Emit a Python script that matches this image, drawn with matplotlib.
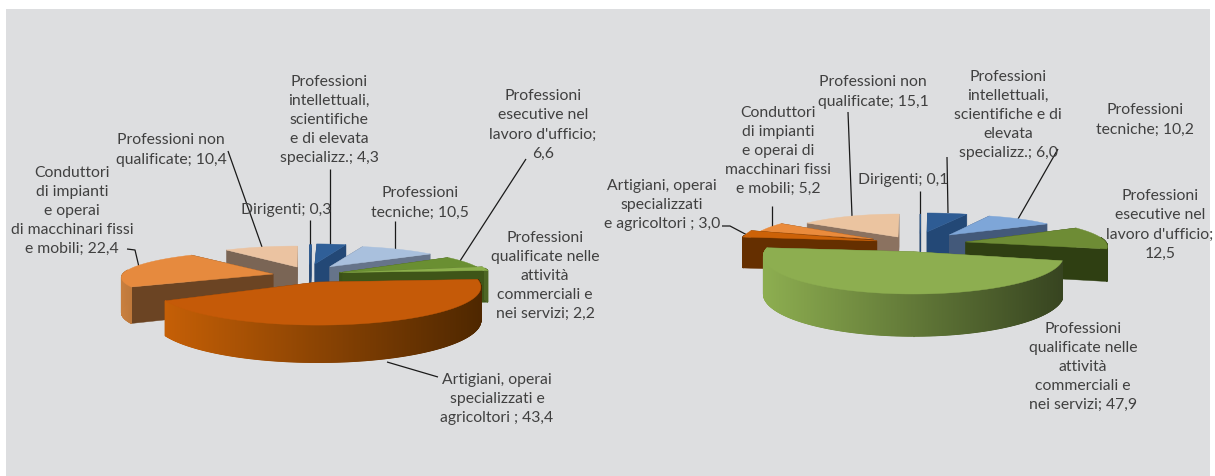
import numpy as np
import matplotlib
matplotlib.use("Agg")
import matplotlib.pyplot as plt
from matplotlib.colors import to_rgb
from matplotlib.patches import Rectangle

plt.rcParams['font.family'] = ['Lato', 'DejaVu Sans']

values_left = [0.3, 4.3, 10.5, 6.6, 2.2, 43.4, 22.4, 10.4]
values_right = [0.1, 6.0, 10.2, 12.5, 47.9, 3.0, 5.2, 15.1]

labels_left = ["Dirigenti; 0,3",
               "Professioni\nintellettuali,\nscientifiche\ne di elevata\nspecializz.; 4,3",
               "Professioni\ntecniche; 10,5",
               "Professioni\nesecutive nel\nlavoro d'ufficio;\n6,6",
               "Professioni\nqualificate nelle\nattività\ncommerciali e\nnei servizi; 2,2",
               "Artigiani, operai\nspecializzati e\nagricoltori ; 43,4",
               "Conduttori\ndi impianti\ne operai\ndi macchinari fissi\ne mobili; 22,4",
               "Professioni non\nqualificate; 10,4"]
labels_right = ["Dirigenti; 0,1",
                "Professioni\nintellettuali,\nscientifiche e di\nelevata\nspecializz.; 6,0",
                "Professioni\ntecniche; 10,2",
                "Professioni\nesecutive nel\nlavoro d'ufficio;\n12,5",
                "Professioni\nqualificate nelle\nattività\ncommerciali e\nnei servizi; 47,9",
                "Artigiani, operai\nspecializzati\ne agricoltori ; 3,0",
                "Conduttori\ndi impianti\ne operai di\nmacchinari fissi\ne mobili; 5,2",
                "Professioni non\nqualificate; 15,1"]

# layout (pixel space)
pos_left = [(286, 210), (329, 120), (420, 203), (543, 125), (545, 276), (497, 399), (72, 211), (171, 150)]
pos_right = [(903, 180), (1008, 115), (1145, 120), (1160, 225), (1083, 367), (662, 205), (778, 151), (873, 92)]

leaders_left = [[(310, 221), (310, 285)], [(330, 170), (330, 246)], [(395, 222), (395, 251)],
                [(526, 160), (460, 262)], [(387, 363), (438, 378)],
                [(127, 250), (135, 251), (139, 268)], [(228, 152), (262, 248)]]
leaders_right = [[(920, 192), (920, 252)], [(947, 158), (948, 214)], [(1058, 150), (1018, 220)],
                 [(722, 227), (730, 227), (749, 237)], [(772, 207), (772, 229)], [(848, 113), (852, 217)]]

# top, wall light, wall dark, cut face
style_left = [("#2F5F98", "#234876", "#234876", "#234876"),
              ("#2F5F98", "#2A5487", "#2A5487", "#234876"),
              ("#A9C0DD", "#7F8FA5", "#7F8FA5", "#66748A"),
              ("#6A8F32", "#3F5518", "#3F5518", "#3C5117"),
              ("#8CB04C", "#4D6523", "#4D6523", "#3F5518"),
              ("#C55A08", "#C55F06", "#4E2700", "#6F3A10"),
              ("#E68A3E", "#C9803F", "#7A4A22", "#6B4423"),
              ("#EBC3A1", "#A58B76", "#A58B76", "#7A6555")]
style_right = [("#2F5F98", "#234876", "#234876", "#234876"),
               ("#2E5C94", "#2A5487", "#2A5487", "#234876"),
               ("#7EA6D8", "#5A7698", "#5A7698", "#43597A"),
               ("#6E8C35", "#2F3F12", "#2F3F12", "#2F3F12"),
               ("#8DAE50", "#8DAE50", "#374420", "#5A6F30"),
               ("#CC6208", "#652F00", "#652F00", "#652F00"),
               ("#EA8B3C", "#A85F20", "#A85F20", "#7C3F10"),
               ("#EBC4A0", "#A58B76", "#A58B76", "#8B7260")]

explode_left = [0.10, 0.10, 0.17, 0.17, 0.14, 0.20, 0.14, 0.10]
explode_right = [0.12, 0.12, 0.17, 0.28, 0.02, 0.15, 0.10, 0.20]
# per-slice (dx px, dy px, x scale, y scale, depth scale)
tweak_left = [(3.5, -8, .765, .64, 1.1), (7, -8.7, .765, .64, 1.1), (10.7, -5, .836, .67, 1.0),
              (11, -.5, .90, .78, 1.0), (16, -2, .91, .78, 1.0), (2, 0, .98, 1.0, 1.0),
              (-12.4, -.2, .93, .73, 1.08), (-4.7, -5.7, .80, .667, 1.0)]
tweak_right = [(5, -13, .80, .60, 1.0), (9.2, -14.5, .806, .59, 1.05), (20.7, -11, .83, .634, 1.0),
               (12, -5.8, .938, .78, .86), (-1, 2, .99, 1.0, 1.0), (-18, -7, .915, 1.0, .85),
               (-31, -8.7, .816, .775, .85), (-6, -7.3, .82, .725, 1.0)]

fig = plt.figure(figsize=(12.15, 4.77), dpi=100, facecolor="white")
ax = fig.add_axes([0, 0, 1, 1])
ax.set_xlim(0, 1215)
ax.set_ylim(477, 0)
ax.axis("off")
ax.add_patch(Rectangle((6, 10), 1204, 467, facecolor="#DDDEE0", edgecolor="none", zorder=0))


def mix(a, b, t):
    a, b = np.array(to_rgb(a)), np.array(to_rgb(b))
    return tuple(a + (b - a) * t)


def draw_pie(values, styles, explode, tweaks, cx, cy, rx, ry, depth, k):
    fr = np.cumsum([0] + list(values)) / sum(values) * 2 * np.pi

    slices = []
    for i in range(len(values)):
        mid = (fr[i] + fr[i + 1]) / 2
        ox, oy = explode[i] * np.sin(mid), explode[i] * np.cos(mid)
        slices.append((oy + 0.35 * np.cos(mid), i, fr[i], fr[i + 1], ox, oy))
    slices.sort(key=lambda s: -s[0])

    z = 2
    for _, i, a, b, ox, oy in slices:
        top, wl, wd, cut = styles[i]
        nx, ny, sx, sy, sd = tweaks[i]

        def project(u, v, dz=0.0):
            w = 1 / (1 + k * v)
            return cx + nx + sx * rx * u * w, cy + ny - sy * ry * v * w + sd * depth * w * dz

        th = np.linspace(a, b, max(3, int((b - a) * 200)))
        us, vs = ox + np.sin(th), oy + np.cos(th)
        # cut faces
        for ang in (a, b):
            p1 = project(ox, oy)
            p2 = project(ox + np.sin(ang), oy + np.cos(ang))
            p3 = project(ox + np.sin(ang), oy + np.cos(ang), 1)
            p4 = project(ox, oy, 1)
            ax.fill(*zip(p1, p2, p3, p4), color=cut, lw=0.3, zorder=z)
        # outer wall
        X, Y = project(us, vs)
        Xb, Yb = project(us, vs, 1)
        xmin, xmax = X.min(), X.max()
        for j in range(len(th) - 1):
            if vs[j] - oy > 0.15 and vs[j + 1] - oy > 0.15:
                continue
            t = (X[j] - xmin) / max(xmax - xmin, 1)
            c = mix(wl, wd, t)
            ax.fill([X[j], X[j + 1], Xb[j + 1], Xb[j]], [Y[j], Y[j + 1], Yb[j + 1], Yb[j]],
                    color=c, lw=0.8, zorder=z)
        # top face
        ax0, ay0 = project(ox, oy)
        ax.fill(np.r_[ax0, X], np.r_[ay0, Y], color=top, lw=0.3, zorder=z + 0.5)
        z += 1


def draw_text(labels, positions, leaders):
    for lab, (x, y) in zip(labels, positions):
        ax.text(x, y, lab, ha="center", va="center", fontsize=11.3, color="#404040",
                linespacing=1.47, zorder=50)
    for seg in leaders:
        xs, ys = zip(*seg)
        ax.plot(xs, ys, color="#1a1a1a", lw=0.9, zorder=1.5, solid_capstyle="butt")


draw_pie(values_left, style_left, explode_left, tweak_left, 306, 276, 162, 36, 32, 0.12)
draw_pie(values_right, style_right, explode_right, tweak_right, 915, 250, 150, 37, 37, 0.12)
draw_text(labels_left, pos_left, leaders_left)
draw_text(labels_right, pos_right, leaders_right)

fig.savefig("out.png", dpi=100)
